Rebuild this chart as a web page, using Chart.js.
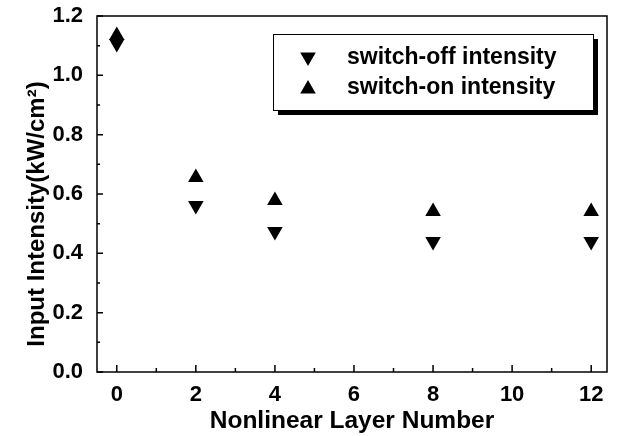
<!DOCTYPE html>
<html>
<head>
<meta charset="utf-8">
<script src="https://cdn.jsdelivr.net/npm/chart.js@4/dist/chart.umd.min.js"></script>
<style>
  html, body { margin: 0; padding: 0; background: #fff; }
  #wrap { width: 617px; height: 436px; }
</style>
</head>
<body>
<div id="wrap"><canvas id="c" width="617" height="436"></canvas></div>
<script>
const layers = [0, 2, 4, 8, 12];
const switchOff = [1.107, 0.561, 0.474, 0.440, 0.440];
const switchOn = [1.134, 0.656, 0.578, 0.541, 0.541];
const xTicks = [0, 2, 4, 6, 8, 10, 12];
const yTicks = [0, 0.2, 0.4, 0.6, 0.8, 1.0, 1.2];
const seriesNames = ['switch-off intensity', 'switch-on intensity'];
const yTitle = 'Input Intensity(kW/cm²)';

const FONT = '"Liberation Sans", Arial, sans-serif';
const R = 9;
const pts = (ys) => layers.map((x, i) => ({ x, y: ys[i] }));

function tri(ctx, x, y, r, down) {
  const s = down ? -1 : 1;
  ctx.beginPath();
  ctx.moveTo(x, y - s * r);
  ctx.lineTo(x + r * 0.866, y + s * r / 2);
  ctx.lineTo(x - r * 0.866, y + s * r / 2);
  ctx.closePath();
  ctx.fill();
}

// frame, inward ticks, y title and the boxed legend
const framePlugin = {
  id: 'frame',
  afterDraw(chart) {
    const { ctx, chartArea: a, scales } = chart;
    ctx.save();
    ctx.strokeStyle = '#000';
    ctx.lineWidth = 1.5;
    ctx.strokeRect(a.left, a.top, a.right - a.left, a.bottom - a.top);
    ctx.beginPath();
    for (let v = 0; v <= 12; v++) {
      const px = scales.x.getPixelForValue(v);
      const len = v % 2 === 0 ? 7 : 4;
      ctx.moveTo(px, a.bottom); ctx.lineTo(px, a.bottom - len);
    }
    for (let k = 0; k <= 12; k++) {
      const py = scales.y.getPixelForValue(k / 10);
      const len = k % 2 === 0 ? 6 : 3;
      ctx.moveTo(a.left, py); ctx.lineTo(a.left + len, py);
    }
    ctx.stroke();

    // y axis title, sits a bit below the axis centre like the original
    ctx.fillStyle = '#000';
    ctx.save();
    ctx.translate(37, 214);
    ctx.rotate(-Math.PI / 2);
    ctx.font = 'bold 24px ' + FONT;
    ctx.textAlign = 'center';
    ctx.textBaseline = 'middle';
    ctx.fillText(yTitle, 0, 0);
    ctx.restore();

    // legend box with shadow
    const bx = 273, by = 34, bw = 320, bh = 76;
    ctx.fillRect(bx + 5, by + 5, bw, bh);
    ctx.fillStyle = '#fff';
    ctx.fillRect(bx, by, bw, bh);
    ctx.lineWidth = 1;
    ctx.strokeRect(bx + 0.5, by + 0.5, bw, bh);
    ctx.fillStyle = '#000';
    ctx.font = 'bold 23px ' + FONT;
    ctx.textBaseline = 'middle';
    chart.data.datasets.forEach((ds, i) => {
      const ly = 58 + i * 30;
      tri(ctx, 308, ly + (i === 0 ? -1 : 1), R, ds.pointRotation === 180);
      ctx.fillText(ds.label, 347, ly);
    });
    ctx.restore();
  }
};

new Chart(document.getElementById('c'), {
  type: 'scatter',
  data: {
    datasets: [
      { label: seriesNames[0], data: pts(switchOff), pointStyle: 'triangle', pointRotation: 180,
        pointRadius: R, backgroundColor: '#000', borderColor: '#000', borderWidth: 0 },
      { label: seriesNames[1], data: pts(switchOn), pointStyle: 'triangle', pointRotation: 0,
        pointRadius: R, backgroundColor: '#000', borderColor: '#000', borderWidth: 0 }
    ]
  },
  options: {
    responsive: false,
    animation: false,
    layout: { padding: { top: 16, right: 10, left: 0, bottom: 0 } },
    plugins: { legend: { display: false }, tooltip: { enabled: false } },
    scales: {
      x: {
        type: 'linear', min: -0.5, max: 12.4,
        afterBuildTicks: (s) => { s.ticks = xTicks.map(v => ({ value: v })); },
        afterFit: (s) => { s.height = 64; s.paddingLeft = 0; s.paddingRight = 0; },
        grid: { display: false, drawTicks: false },
        border: { display: false },
        ticks: { color: '#000', padding: 10, maxRotation: 0, font: { family: FONT, size: 22, weight: 'bold' } },
        title: { display: true, text: 'Nonlinear Layer Number', color: '#000', padding: { top: 0, bottom: 0 },
          font: { family: FONT, size: 24.5, weight: 'bold' } }
      },
      y: {
        min: 0, max: 1.2,
        afterBuildTicks: (s) => { s.ticks = yTicks.map(v => ({ value: v })); },
        afterFit: (s) => { s.width = 97; s.paddingTop = 0; s.paddingBottom = 0; },
        grid: { display: false, drawTicks: false },
        border: { display: false },
        ticks: { color: '#000', padding: 14, callback: (v) => v.toFixed(1), font: { family: FONT, size: 22, weight: 'bold' } },
        title: { display: false }
      }
    }
  },
  plugins: [framePlugin]
});
</script>
</body>
</html>
